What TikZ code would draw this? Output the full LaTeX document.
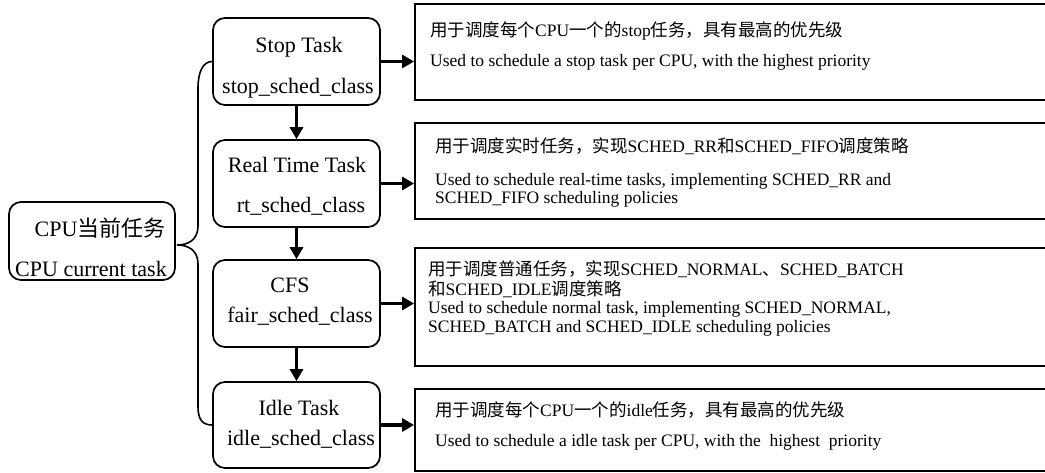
\documentclass[tikz,border=0pt]{standalone}
\usepackage{fontspec}
\setmainfont{Liberation Serif}
\newfontfamily\cjk{Noto Sans CJK SC}
\usetikzlibrary{arrows.meta}
\newcommand\zh[1]{{\cjk #1}}

\begin{document}
\begin{tikzpicture}[x=1pt,y=-1pt,
  taskbox/.style={draw, line width=1.7pt, rounded corners=12pt, minimum width=167pt, inner sep=0pt},
  descbox/.style={draw, line width=1.8pt, minimum width=640pt, inner sep=0pt},
  big/.style={font=\fontsize{22}{25}\selectfont, inner sep=0pt, anchor=base},
  desc/.style={font=\fontsize{17.5}{20}\selectfont, inner sep=0pt, anchor=base west},
  flow/.style={line width=3.4pt, -{Triangle[length=12pt,width=13pt]}},
  brace/.style={line width=1.6pt},
]
\useasboundingbox (0,0) rectangle (1045,473);
\clip (0,0) rectangle (1045,473);

% current task box
\node[taskbox, minimum width=166pt, minimum height=78pt] (cur) at (92,241) {};
\node[big] (curzh) at (100,237) {CPU\zh{当前任务}};
\node[big] (curen) at (91,277) {CPU current task};

% scheduling class boxes
\node[taskbox, minimum height=87pt] (stop) at (296.5,61.5) {};
\node[taskbox, minimum height=87pt] (rt)   at (296.5,183.5) {};
\node[taskbox, minimum height=87pt] (cfs)  at (296.5,303.5) {};
\node[taskbox, minimum height=86pt] (idle) at (296.5,425) {};

\node[big] (stopa) at (299,53)  {Stop Task};
\node[big] (stopb) at (298,94)  {stop\_sched\_class};
\node[big] (rta)   at (297,173) {Real Time Task};
\node[big] (rtb)   at (301,213) {rt\_sched\_class};
\node[big] (cfsa)  at (290,293) {CFS};
\node[big] (cfsb)  at (300,323) {fair\_sched\_class};
\node[big] (idlea) at (299,415) {Idle Task};
\node[big] (idleb) at (301,445) {idle\_sched\_class};

% description boxes
\node[descbox, minimum height=96pt]  (d1) at (735,52)  {};
\node[descbox, minimum height=96pt]  (d2) at (735,171) {};
\node[descbox, minimum height=118pt] (d3) at (735,307) {};
\node[descbox, minimum height=82pt]  (d4) at (735,430) {};

\node[desc] (d1a) at (430,37) {\zh{用于调度每个}CPU\zh{一个的}stop\zh{任务，具有最高的优先级}};
\node[desc] (d1b) at (430,67) {Used to schedule a stop task per CPU, with the highest priority};

\node[desc] (d2a) at (435,153) {\zh{用于调度实时任务，实现}SCHED\_RR\zh{和}SCHED\_FIFO\zh{调度策略}};
\node[desc] (d2b) at (435,186) {Used to schedule real-time tasks, implementing SCHED\_RR and};
\node[desc] (d2c) at (435,204) {SCHED\_FIFO scheduling policies};

\node[desc] (d3a) at (428,276) {\zh{用于调度普通任务，实现}SCHED\_NORMAL\zh{、}SCHED\_BATCH};
\node[desc] (d3b) at (428,296) {\zh{和}SCHED\_IDLE\zh{调度策略}};
\node[desc] (d3c) at (428,313) {Used to schedule normal task, implementing SCHED\_NORMAL,};
\node[desc] (d3d) at (428,332) {SCHED\_BATCH and SCHED\_IDLE scheduling policies};

\node[desc] (d4a) at (435,416) {\zh{用于调度每个}CPU\zh{一个的}idle\zh{任务，具有最高的优先级}};
\node[desc] (d4b) at (435,446) {Used to schedule a idle task per CPU, with the\ \ highest\ \ priority};

% brace joining the current task to the class chain
\coordinate (tip) at (177,245);
\draw[brace] (stop.west) .. controls (203,61.5) and (198,72) .. (198,88)
  -- (198,226) .. controls (198,240) and (188,245) .. (tip)
  .. controls (188,245) and (198,250) .. (198,264)
  -- (198,407) .. controls (198,420) and (203,425) .. (idle.west);

% class chain
\draw[flow] (stop.south) -- (rt.north);
\draw[flow] (rt.south) -- (cfs.north);
\draw[flow] (cfs.south) -- (idle.north);

% class to description
\draw[flow] (stop.east) -- (stop.east -| d1.west);
\draw[flow] (rt.east) -- (rt.east -| d2.west);
\draw[flow] (cfs.east) -- (cfs.east -| d3.west);
\draw[flow] (idle.east) -- (idle.east -| d4.west);
\end{tikzpicture}
\end{document}
